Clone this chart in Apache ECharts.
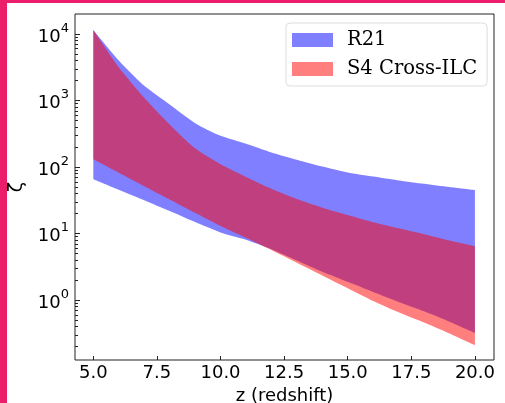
<!DOCTYPE html>
<html>
<head>
<meta charset="utf-8">
<script src="https://cdn.jsdelivr.net/npm/echarts@6/dist/echarts.min.js"></script>
<style>
  html, body { margin: 0; padding: 0; background: #fff; }
  #frame {
    width: 505px; height: 403px; box-sizing: border-box;
    border-left: 7px solid #ec1e6b; border-top: 3px solid #ec1e6b;
    background: #fff;
  }
  #chart { width: 498px; height: 400px; }
</style>
</head>
<body>
<div id="frame"><div id="chart"></div></div>
<script>
// redshift samples and zeta bands (min / max)
var redshift = [5, 6, 7, 8, 9, 10, 11, 12, 13, 14, 15, 16, 17, 18, 19, 20];
var r21Low  = [65.3, 45.4, 31.7, 21.8, 14.9, 10.4, 8.07, 5.82, 3.94, 2.67, 1.88, 1.32, 0.94, 0.68, 0.475, 0.322];
var r21High = [11480, 3980, 1660, 871, 457, 295, 224, 166, 129, 102, 83, 72, 63, 56, 50, 45];
var s4Low   = [130.6, 82, 51.6, 32.6, 20.5, 13.0, 8.65, 5.66, 3.65, 2.35, 1.51, 0.97, 0.656, 0.46, 0.315, 0.21];
var s4High  = [11480, 3160, 1100, 437, 191, 110, 71, 47, 33, 24.5, 19, 14.8, 12, 9.8, 7.9, 6.5];

var xTicks = [5, 7.5, 10, 12.5, 15, 17.5, 20];
var yDecades = [0, 1, 2, 3, 4];

(function() {
  var blue = 'rgba(0,0,255,0.5)';
  var red = 'rgba(255,0,0,0.5)';
  var ink = '#000';
  var yMin = -0.9, yMax = 4.3;

  // minor log ticks (2..9 of each decade)
  var minorTicks = [];
  for (var n = -1; n <= 4; n++) {
    for (var k = 2; k <= 9; k++) {
      var v = Math.log10(k) + n;
      if (v > yMin && v < yMax) minorTicks.push(v);
    }
  }

  // rows are [log10(zeta), z] so the stack runs on the y value
  function lowRows(lows) {
    return redshift.map(function(z, i) { return [Math.log10(lows[i]), z]; });
  }
  function spanRows(lows, highs) {
    return redshift.map(function(z, i) { return [Math.log10(highs[i]) - Math.log10(lows[i]), z]; });
  }

  function band(name, stack, lows, highs, color) {
    return [{
      name: name + ' min',
      type: 'line',
      stack: stack,
      stackStrategy: 'all',
      encode: { x: 1, y: 0 },
      symbol: 'none',
      smooth: 0.2,
      silent: true,
      lineStyle: { opacity: 0 },
      data: lowRows(lows)
    }, {
      name: name,
      type: 'line',
      stack: stack,
      stackStrategy: 'all',
      encode: { x: 1, y: 0 },
      symbol: 'none',
      smooth: 0.2,
      silent: true,
      itemStyle: { color: color },
      lineStyle: { opacity: 0 },
      areaStyle: { color: color, opacity: 1 },
      data: spanRows(lows, highs)
    }];
  }

  var chart = echarts.init(document.getElementById('chart'), null, { renderer: 'canvas' });

  chart.setOption({
    animation: false,
    grid: {
      left: 68, right: 11, top: 11, bottom: 43,
      outerBoundsMode: 'none',
      containLabel: false,
      show: true, borderColor: '#222', borderWidth: 1, backgroundColor: 'transparent'
    },
    legend: {
      orient: 'vertical',
      left: 279, top: 20,
      backgroundColor: 'rgba(255,255,255,0.8)',
      borderColor: '#ddd', borderWidth: 1, borderRadius: 4,
      padding: [7, 10, 7, 6],
      itemWidth: 41, itemHeight: 14, itemGap: 9,
      icon: 'rect',
      textStyle: { fontFamily: 'DejaVu Serif', fontSize: 19.5, color: ink, padding: [0, 0, 0, 9] },
      data: [
        { name: 'R21', itemStyle: { color: blue } },
        { name: 'S4 Cross-ILC', itemStyle: { color: red } }
      ]
    },
    xAxis: {
      type: 'value',
      min: 4.28, max: 20.75,
      name: 'z (redshift)',
      nameLocation: 'middle',
      nameGap: 20,
      nameTextStyle: { fontFamily: 'DejaVu Sans', fontSize: 18, color: ink },
      axisLine: { show: false, onZero: false },
      splitLine: { show: false },
      axisTick: { show: true, inside: true, length: 4, lineStyle: { color: '#222' }, customValues: xTicks },
      axisLabel: {
        fontFamily: 'DejaVu Sans', fontSize: 18, color: ink, margin: 4,
        customValues: xTicks,
        formatter: function(v) { return v.toFixed(1); }
      }
    },
    yAxis: [{
      type: 'value',
      min: yMin, max: yMax,
      name: 'ζ',
      nameLocation: 'middle',
      nameGap: 47,
      nameTextStyle: { fontFamily: 'DejaVu Sans', fontSize: 19, color: ink },
      axisLine: { show: false, onZero: false },
      splitLine: { show: false },
      axisTick: { show: true, inside: true, length: 5, lineStyle: { color: '#222' }, customValues: yDecades },
      axisLabel: {
        color: ink, margin: 6,
        customValues: yDecades,
        formatter: function(v) { return '{b|10}{s|' + Math.round(v) + '}'; },
        rich: {
          b: { fontFamily: 'DejaVu Sans', fontSize: 18, color: ink, lineHeight: 24, verticalAlign: 'bottom' },
          s: { fontFamily: 'DejaVu Sans', fontSize: 13, color: ink, lineHeight: 24, verticalAlign: 'top' }
        }
      }
    }, {
      type: 'value',
      position: 'left',
      min: yMin, max: yMax,
      axisLine: { show: false, onZero: false },
      splitLine: { show: false },
      axisLabel: { show: false },
      axisTick: { show: true, inside: true, length: 3, lineStyle: { color: '#222' }, customValues: minorTicks }
    }],
    series: band('R21', 'r21', r21Low, r21High, blue)
      .concat(band('S4 Cross-ILC', 's4', s4Low, s4High, red))
  });

  window.addEventListener('resize', function() { chart.resize(); });
})();
</script>
</body>
</html>
